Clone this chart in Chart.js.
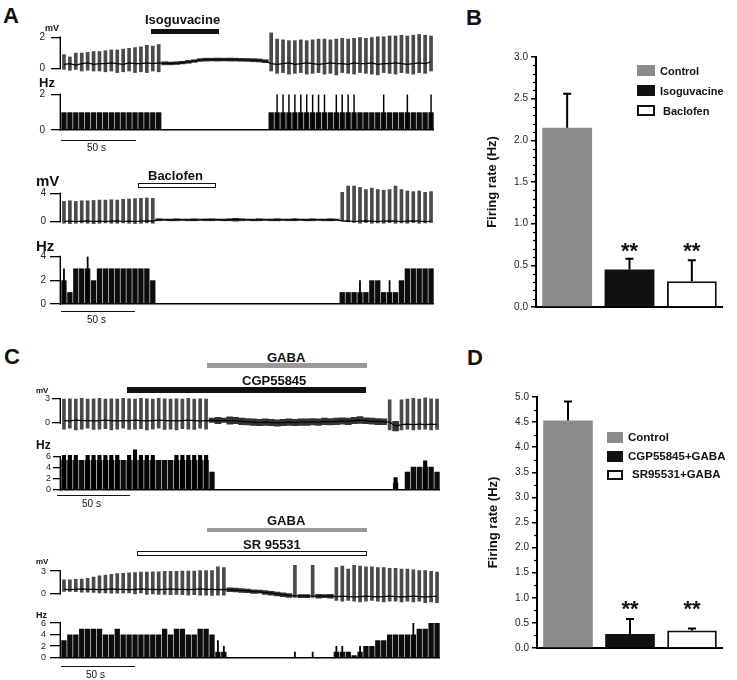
<!DOCTYPE html>
<html>
<head>
<meta charset="utf-8">
<script src="https://cdn.jsdelivr.net/npm/chart.js@4.4.1/dist/chart.umd.min.js"></script>
<style>
body { margin: 0; background: #fff; }
#fig { position: relative; width: 737px; height: 680px; overflow: hidden; background: #fff;
       font-family: "Liberation Sans", Arial, sans-serif; color: #111; }
#fig canvas { position: absolute; }
.t { position: absolute; font-weight: bold; white-space: nowrap; line-height: 1; }
.n { position: absolute; white-space: nowrap; line-height: 1; font-size: 10px; }
.bx { position: absolute; box-sizing: border-box; }
</style>
</head>
<body>
<div id="fig">
  <canvas id="a1mv"></canvas>
  <canvas id="a1hz"></canvas>
  <canvas id="a2mv"></canvas>
  <canvas id="a2hz"></canvas>
  <canvas id="c1mv"></canvas>
  <canvas id="c1hz"></canvas>
  <canvas id="c2mv"></canvas>
  <canvas id="c2hz"></canvas>
  <canvas id="chartB"></canvas>
  <canvas id="chartD"></canvas>

  <!-- panel letters -->
  <div class="t" style="left:3px;top:5px;font-size:22px">A</div>
  <div class="t" style="left:466px;top:7px;font-size:22px">B</div>
  <div class="t" style="left:4px;top:346px;font-size:22px">C</div>
  <div class="t" style="left:467px;top:347px;font-size:22px">D</div>

  <!-- A: drug bars, units, scale bars -->
  <div class="t" style="left:145px;top:13px;font-size:13px">Isoguvacine</div>
  <div class="bx" style="left:151px;top:29px;width:68px;height:5px;background:#111"></div>
  <div class="t" style="left:45px;top:24px;font-size:9px">mV</div>
  <div class="t" style="left:39px;top:76px;font-size:13px">Hz</div>
  <div class="bx" style="left:61px;top:140px;width:75px;height:1px;background:#111"></div>
  <div class="n" style="left:87px;top:143px">50 s</div>

  <div class="t" style="left:148px;top:169px;font-size:13px">Baclofen</div>
  <div class="bx" style="left:138px;top:183px;width:78px;height:5px;border:1px solid #111;background:#fff"></div>
  <div class="t" style="left:36px;top:173px;font-size:15px">mV</div>
  <div class="t" style="left:36px;top:238px;font-size:15px">Hz</div>
  <div class="bx" style="left:61px;top:311px;width:74px;height:1px;background:#111"></div>
  <div class="n" style="left:87px;top:315px">50 s</div>

  <!-- C: drug bars, units, scale bars -->
  <div class="t" style="left:267px;top:351px;font-size:13px">GABA</div>
  <div class="bx" style="left:207px;top:363px;width:160px;height:5px;background:#999"></div>
  <div class="t" style="left:242px;top:374px;font-size:13px">CGP55845</div>
  <div class="bx" style="left:127px;top:387px;width:239px;height:6px;background:#111"></div>
  <div class="t" style="left:36px;top:387px;font-size:8px">mV</div>
  <div class="t" style="left:36px;top:439px;font-size:12px">Hz</div>
  <div class="bx" style="left:57px;top:495px;width:73px;height:1px;background:#111"></div>
  <div class="n" style="left:82px;top:499px">50 s</div>

  <div class="t" style="left:267px;top:514px;font-size:13px">GABA</div>
  <div class="bx" style="left:207px;top:528px;width:160px;height:4px;background:#999"></div>
  <div class="t" style="left:243px;top:538px;font-size:13px">SR 95531</div>
  <div class="bx" style="left:137px;top:551px;width:230px;height:5px;border:1px solid #111;background:#fff"></div>
  <div class="t" style="left:36px;top:558px;font-size:8px">mV</div>
  <div class="t" style="left:36px;top:611px;font-size:9px">Hz</div>
  <div class="bx" style="left:61px;top:666px;width:74px;height:1px;background:#111"></div>
  <div class="n" style="left:86px;top:670px">50 s</div>

  <!-- legends B and D -->
  <div class="bx" style="left:637px;top:65px;width:18px;height:11px;background:#8b8b8b"></div>
  <div class="bx" style="left:637px;top:85px;width:18px;height:11px;background:#111"></div>
  <div class="bx" style="left:637px;top:105px;width:18px;height:11px;border:2px solid #111;background:#fff"></div>
  <div class="t" style="left:660px;top:66px;font-size:11px">Control</div>
  <div class="t" style="left:660px;top:86px;font-size:11px">Isoguvacine</div>
  <div class="t" style="left:663px;top:106px;font-size:11px">Baclofen</div>

  <div class="bx" style="left:607px;top:432px;width:16px;height:11px;background:#8b8b8b"></div>
  <div class="bx" style="left:607px;top:451px;width:16px;height:11px;background:#111"></div>
  <div class="bx" style="left:607px;top:470px;width:16px;height:10px;border:2px solid #111;background:#fff"></div>
  <div class="t" style="left:628px;top:432px;font-size:11.5px">Control</div>
  <div class="t" style="left:628px;top:451px;font-size:11.5px">CGP55845+GABA</div>
  <div class="t" style="left:632px;top:469px;font-size:11.5px">SR95531+GABA</div>
</div>

<script>
Chart.defaults.font.family = '"Liberation Sans", Arial, sans-serif';
Chart.defaults.color = '#111';

const BIN_S = 4;      // seconds per trace bin
const BIN_PX = 5.92;  // width of one bin on the page

// ---- A, isoguvacine: membrane potential envelope (mV) ----
const a1SpikeHi = [0.9,0.75,1.0,1.0,1.05,1.1,1.1,1.15,1.2,1.2,1.25,1.3,1.35,1.4,1.5,1.45,1.55,
  null,null,null,null,null,null,null,null,null,null,null,null,null,null,null,null,null,null,
  2.3,1.9,1.85,1.8,1.8,1.85,1.8,1.85,1.9,1.9,1.85,1.9,1.95,1.9,1.95,2.0,1.95,2.0,2.05,2.05,2.1,2.1,2.15,2.1,2.15,2.2,2.15,2.1];
const a1SpikeLo = [-0.1,-0.15,-0.1,-0.2,-0.15,-0.2,-0.2,-0.25,-0.2,-0.3,-0.25,-0.2,-0.3,-0.25,-0.3,-0.2,-0.25,
  null,null,null,null,null,null,null,null,null,null,null,null,null,null,null,null,null,null,
  -0.2,-0.35,-0.3,-0.4,-0.35,-0.3,-0.4,-0.35,-0.3,-0.4,-0.35,-0.45,-0.3,-0.35,-0.4,-0.3,-0.35,-0.4,-0.45,-0.3,-0.35,-0.4,-0.3,-0.35,-0.4,-0.3,-0.35,-0.2];
const a1BandHi = [null,null,null,null,null,null,null,null,null,null,null,null,null,null,null,null,null,
  0.42,0.4,0.42,0.45,0.5,0.55,0.62,0.65,0.65,0.66,0.65,0.66,0.65,0.64,0.63,0.62,0.6,0.55,
  null,null,null,null,null,null,null,null,null,null,null,null,null,null,null,null,null,null,null,null,null,null,null,null,null,null,null,null];
const a1BandLo = [null,null,null,null,null,null,null,null,null,null,null,null,null,null,null,null,null,
  0.22,0.22,0.24,0.28,0.32,0.38,0.44,0.46,0.47,0.46,0.47,0.46,0.46,0.45,0.44,0.42,0.4,0.36,
  null,null,null,null,null,null,null,null,null,null,null,null,null,null,null,null,null,null,null,null,null,null,null,null,null,null,null,null];
const a1Base = [0.25,0.3,0.2,0.3,0.35,0.25,0.3,0.3,0.35,0.3,0.25,0.35,0.3,0.3,0.35,0.3,0.35,
  0.32,0.31,0.33,0.36,0.41,0.46,0.53,0.55,0.56,0.56,0.56,0.56,0.55,0.54,0.53,0.52,0.5,0.45,
  0.3,0.25,0.3,0.35,0.25,0.3,0.35,0.3,0.25,0.3,0.35,0.3,0.3,0.25,0.35,0.3,0.3,0.35,0.25,0.3,0.3,0.35,0.3,0.25,0.3,0.35,0.3,0.4];
// firing rate (Hz)
const a1Rate = [1,1,1,1,1,1,1,1,1,1,1,1,1,1,1,1,1,
  0,0,0,0,0,0,0,0,0,0,0,0,0,0,0,0,0,0,
  1,1,1,1,1,1,1,1,1,1,1,1,1,1,1,1,1,1,1,1,1,1,1,1,1,1,1,1];
const a1PeakT = [144,148,152,156,160,164,168,172,176,184,188,192,196,216,232,248];
const a1PeakV = [2,2,2,2,2,2,2,2,2,2,2,2,2,2,2,2];

// ---- A, baclofen ----
const a2SpikeHi = [2.9,3.0,2.9,3.0,3.0,3.05,3.1,3.1,3.15,3.1,3.2,3.25,3.3,3.35,3.4,3.35,
  null,null,null,null,null,null,null,null,null,null,null,null,null,null,null,null,null,null,null,null,null,null,null,null,null,null,null,null,null,null,null,
  4.2,5.1,5.1,4.9,4.6,4.8,4.6,4.5,4.6,5.1,4.6,4.4,4.3,4.4,4.2,4.3];
const a2SpikeLo = [-0.3,-0.35,-0.3,-0.25,-0.3,-0.35,-0.3,-0.25,-0.3,-0.3,-0.25,-0.3,-0.35,-0.3,-0.25,-0.3,
  null,null,null,null,null,null,null,null,null,null,null,null,null,null,null,null,null,null,null,null,null,null,null,null,null,null,null,null,null,null,null,
  0.0,-0.1,-0.2,-0.3,-0.2,-0.3,-0.25,-0.3,-0.2,-0.3,-0.25,-0.3,-0.2,-0.3,-0.25,-0.2];
const a2BandHi = [null,null,null,null,null,null,null,null,null,null,null,null,null,null,null,null,
  0.4,0.35,0.35,0.4,0.35,0.35,0.4,0.35,0.35,0.4,0.35,0.35,0.4,0.45,0.4,0.35,0.35,0.4,0.35,0.35,0.4,0.35,0.35,0.4,0.35,0.35,0.4,0.35,0.35,0.4,0.35,
  null,null,null,null,null,null,null,null,null,null,null,null,null,null,null,null];
const a2BandLo = [null,null,null,null,null,null,null,null,null,null,null,null,null,null,null,null,
  0.1,0.15,0.1,0.1,0.15,0.1,0.1,0.15,0.1,0.1,0.15,0.1,0.1,0.05,0.1,0.15,0.1,0.1,0.15,0.1,0.1,0.15,0.1,0.1,0.15,0.1,0.1,0.15,0.1,0.1,0.15,
  null,null,null,null,null,null,null,null,null,null,null,null,null,null,null,null];
const a2Base = [0.0,0.05,0.0,0.05,0.1,0.0,0.05,0.0,0.05,0.1,0.0,0.05,0.0,0.05,0.1,0.05,
  0.25,0.25,0.2,0.25,0.25,0.25,0.2,0.25,0.3,0.25,0.25,0.2,0.25,0.3,0.25,0.25,0.2,0.25,0.25,0.25,0.2,0.25,0.25,0.3,0.25,0.2,0.25,0.25,0.25,0.2,0.25,
  0.05,0.1,0.0,0.05,0.1,0.05,0.0,0.05,0.1,0.05,0.0,0.05,0.1,0.05,0.0,0.05];
const a2Rate = [2,1,3,3,3,2,3,3,3,3,3,3,3,3,3,2,
  0,0,0,0,0,0,0,0,0,0,0,0,0,0,0,0,0,0,0,0,0,0,0,0,0,0,0,0,0,0,0,
  1,1,1,1,1,2,2,1,1,1,2,3,3,3,3,3];
const a2PeakT = [0,16,200,220];
const a2PeakV = [3,4,2,2];

// ---- C, GABA + CGP55845 ----
const c1SpikeHi = [3.0,3.05,3.0,3.1,3.0,3.05,3.1,3.0,3.05,3.0,3.1,3.05,3.0,3.1,3.05,3.0,3.1,3.05,3.0,3.05,3.0,3.1,3.0,3.05,3.0,
  null,null,null,null,null,null,null,null,null,null,null,null,null,null,null,null,null,null,null,null,null,null,null,null,null,null,null,null,null,null,
  2.9, null,
  2.9,3.0,3.1,3.0,3.15,3.05,3.0];
const c1SpikeLo = [-0.8,-0.7,-0.9,-0.8,-0.7,-0.85,-0.8,-0.75,-0.9,-0.8,-0.7,-0.85,-0.8,-0.75,-0.9,-0.8,-0.7,-0.85,-0.8,-0.9,-0.75,-0.8,-0.85,-0.7,-0.8,
  null,null,null,null,null,null,null,null,null,null,null,null,null,null,null,null,null,null,null,null,null,null,null,null,null,null,null,null,null,null,
  -0.9, null,
  -0.9,-0.8,-0.9,-0.85,-0.8,-0.9,-0.85];
const c1BandHi = [null,null,null,null,null,null,null,null,null,null,null,null,null,null,null,null,null,null,null,null,null,null,null,null,null,
  0.6,0.7,0.6,0.75,0.7,0.6,0.55,0.5,0.45,0.5,0.45,0.4,0.45,0.5,0.45,0.5,0.5,0.55,0.5,0.6,0.55,0.6,0.65,0.6,0.7,0.8,0.65,0.6,0.55,0.5,
  null, 0.2,
  null,null,null,null,null,null,null];
const c1BandLo = [null,null,null,null,null,null,null,null,null,null,null,null,null,null,null,null,null,null,null,null,null,null,null,null,null,
  0.0,-0.1,0.0,-0.15,-0.1,-0.2,-0.25,-0.3,-0.35,-0.3,-0.35,-0.4,-0.35,-0.3,-0.35,-0.3,-0.3,-0.25,-0.3,-0.2,-0.25,-0.2,-0.15,-0.2,-0.1,-0.05,-0.1,-0.15,-0.2,-0.2,
  null, -1.0,
  null,null,null,null,null,null,null];
const c1Base = [0.3,0.25,0.35,0.3,0.3,0.25,0.3,0.35,0.3,0.25,0.3,0.3,0.35,0.3,0.25,0.3,0.35,0.3,0.3,0.25,0.3,0.35,0.3,0.25,0.3,
  0.3,0.3,0.3,0.3,0.3,0.2,0.15,0.1,0.05,0.1,0.05,0.0,0.05,0.1,0.05,0.1,0.1,0.15,0.1,0.2,0.15,0.2,0.25,0.2,0.3,0.35,0.3,0.2,0.2,0.15,
  0.1, -0.4,
  -0.2,-0.15,-0.2,-0.15,-0.2,-0.15,-0.2];
const c1Rate = [5.4,5.4,5.4,5.4,5.4,5.4,5.4,5.4,5.4,5.4,5.4,5.4,5.4,5.4,5.4,5.4,5.4,5.4,5.4,5.4,5.4,5.4,5.4,5.4,5.4,
  3.3,
  0,0,0,0,0,0,0,0,0,0,0,0,0,0,0,0,0,0,0,0,0,0,0,0,0,0,0,0,0,0,
  1.3, 0, 3.3, 4.2,4.2,4.2,4.2, 3.3];
const c1PeakT = [0,4,8,16,20,24,28,32,36,44,48,52,56,60,76,80,84,88,92,96,224,244];
const c1PeakV = [6.3,6.3,6.3,6.3,6.3,6.3,6.3,6.3,6.3,6.3,7.3,6.3,6.3,6.3,6.3,6.3,6.3,6.3,6.3,6.3,2.3,5.3];

// ---- C, GABA + SR 95531 ----
const c2SpikeHi = [1.9,1.9,1.95,2.0,2.1,2.25,2.4,2.5,2.6,2.7,2.75,2.8,2.85,2.9,2.9,2.95,2.95,3.0,3.0,3.0,3.05,3.05,3.05,3.1,3.1,3.1,3.6,3.5,
  null,null,null,null,null,null,null,null,null,null,null,
  3.8, null,null, 3.8, null,null,null,
  3.5,3.7,3.3,3.8,3.7,3.6,3.6,3.5,3.5,3.4,3.4,3.3,3.3,3.2,3.1,3.1,3.0,2.9];
const c2SpikeLo = [0.3,0.3,0.25,0.2,0.2,0.15,0.1,0.1,0.05,0.05,0.0,0.0,-0.05,0.0,-0.1,-0.05,-0.1,-0.1,-0.15,-0.1,-0.15,-0.2,-0.15,-0.2,-0.2,-0.25,-0.2,-0.2,
  null,null,null,null,null,null,null,null,null,null,null,
  -0.5, null,null, -0.5, null,null,null,
  -0.9,-1.0,-0.9,-1.0,-1.1,-1.0,-0.9,-1.0,-1.1,-1.0,-1.0,-1.1,-1.0,-1.1,-1.0,-1.2,-1.1,-1.2];
const c2BandHi = [null,null,null,null,null,null,null,null,null,null,null,null,null,null,null,null,null,null,null,null,null,null,null,null,null,null,null,null,
  0.8,0.75,0.7,0.65,0.55,0.5,0.45,0.35,0.25,0.15,0.05,
  null, 0.0,0.0, null, -0.05,0.0,-0.05,
  null,null,null,null,null,null,null,null,null,null,null,null,null,null,null,null,null,null];
const c2BandLo = [null,null,null,null,null,null,null,null,null,null,null,null,null,null,null,null,null,null,null,null,null,null,null,null,null,null,null,null,
  0.3,0.25,0.2,0.15,0.05,0.0,-0.05,-0.15,-0.25,-0.35,-0.45,
  null, -0.5,-0.5, null, -0.55,-0.5,-0.55,
  null,null,null,null,null,null,null,null,null,null,null,null,null,null,null,null,null,null];
const c2Base = [0.6,0.55,0.6,0.65,0.6,0.6,0.55,0.6,0.65,0.6,0.6,0.55,0.6,0.65,0.6,0.6,0.55,0.6,0.65,0.6,0.6,0.55,0.6,0.65,0.6,0.6,0.55,0.6,
  0.55,0.5,0.45,0.4,0.3,0.25,0.2,0.1,0.0,-0.1,-0.2,
  -0.25, -0.25,-0.25, -0.3, -0.3,-0.25,-0.3,
  -0.35,-0.3,-0.35,-0.4,-0.35,-0.3,-0.35,-0.4,-0.35,-0.3,-0.35,-0.4,-0.35,-0.3,-0.35,-0.4,-0.35,-0.3];
const c2Rate = [3,4,4,5,5,5,5,4,4,5,4,4,4,4,4,4,4,5,4,5,5,4,4,5,5,4,
  1,1,
  0,0,0,0,0,0,0,0,0,0,0,0,0,0,0,0,0,0,
  1,1,1,0.4,1,2,2,3,3,4,4,4,4,4,5,5,6,6];
const c2PeakT = [104,108,156,168,184,188,200,236];
const c2PeakV = [3,2,1,1,2,2,2,6];

// ---- B and D summary bars ----
const bCats = ['Control', 'Isoguvacine', 'Baclofen'];
const bMeans = [2.15, 0.45, 0.31];
const bSem = [0.41, 0.13, 0.25];
const bSig = ['', '**', '**'];
const bTicks = [0, 0.5, 1.0, 1.5, 2.0, 2.5, 3.0];

const dCats = ['Control', 'CGP55845+GABA', 'SR95531+GABA'];
const dMeans = [4.53, 0.28, 0.35];
const dSem = [0.38, 0.30, 0.04];
const dSig = ['', '**', '**'];
const dTicks = [0, 0.5, 1.0, 1.5, 2.0, 2.5, 3.0, 3.5, 4.0, 4.5, 5.0];

const barFill = ['#8b8b8b', '#111111', '#ffffff'];
const barEdge = ['#8b8b8b', '#111111', '#111111'];

// create chart, measure its paddings, then recreate so the plot area lands on `area`
function mount(id, makeCfg, area) {
  const cv = document.getElementById(id);
  cv.width = Math.round(area.w) + 120;
  cv.height = Math.round(area.h) + 80;
  let ch = new Chart(cv, makeCfg());
  const a = ch.chartArea;
  const l = a.left, t = a.top, r = cv.width - a.right, b = cv.height - a.bottom;
  ch.destroy();
  cv.width = Math.round(area.w + l + r);
  cv.height = Math.round(area.h + t + b);
  cv.style.left = (area.x - l) + 'px';
  cv.style.top = (area.y - t) + 'px';
  return new Chart(cv, makeCfg());
}

function traceArea(ax, n) {
  const ppv = (ax.zeroPx - ax.refPx) / ax.refVal;
  return { x: 61, w: n * BIN_PX, y: ax.zeroPx - ax.max * ppv, h: (ax.max - ax.min) * ppv };
}

const bracket = {
  id: 'bracket',
  afterDraw(chart) {
    const y = chart.scales.y, ctx = chart.ctx, tk = y.ticks;
    const x = y.right - 0.7;
    ctx.save();
    ctx.strokeStyle = '#000';
    ctx.lineWidth = 1.4;
    ctx.beginPath();
    ctx.moveTo(x, y.getPixelForValue(tk[0].value) + 0.7);
    ctx.lineTo(x, y.getPixelForValue(tk[tk.length - 1].value) - 0.7);
    ctx.stroke();
    ctx.restore();
  }
};

function baseOptions(scales) {
  return {
    responsive: false, animation: false, events: [],
    layout: { padding: 0 },
    plugins: { legend: { display: false }, tooltip: { enabled: false } },
    scales
  };
}

function traceScales(ax, showBase) {
  return {
    x: { display: showBase, grid: { display: false }, ticks: { display: false },
         border: { display: true, color: '#000', width: 1.6 } },
    y: {
      min: ax.min, max: ax.max,
      afterBuildTicks: s => { s.ticks = ax.ticks.map(v => ({ value: v })); },
      afterFit: s => { s.width = 41; },
      ticks: { font: { size: ax.font }, color: '#222', padding: ax.pad, autoSkip: false,
               callback: v => String(v) },
      grid: { drawOnChartArea: false, tickLength: ax.tl, color: '#000', lineWidth: 1.3 },
      border: { display: false }
    }
  };
}

function mvConfig(d, ax) {
  return () => ({
    type: 'bar',
    data: {
      labels: d.base.map((_, i) => String(i * BIN_S)),
      datasets: [
        { type: 'line', data: d.base, borderColor: '#000', borderWidth: 1.2, pointRadius: 0, order: 1 },
        { data: d.hi.map((h, i) => h === null ? null : [d.lo[i], h]), backgroundColor: '#4a4a4a',
          barPercentage: 0.62, categoryPercentage: 1, grouped: false, order: 2 },
        { data: d.bandHi.map((h, i) => h === null ? null : [d.bandLo[i], h]), backgroundColor: '#333333',
          barPercentage: 1, categoryPercentage: 1, grouped: false, order: 3 }
      ]
    },
    options: baseOptions(traceScales(ax, false)),
    plugins: [bracket]
  });
}

function hzConfig(d, ax) {
  return () => ({
    type: 'bar',
    data: {
      labels: d.rate.map((_, i) => String(i * BIN_S)),
      datasets: [
        { data: d.peakT.map((t, i) => ({ x: String(t), y: d.peakV[i] })), backgroundColor: '#000',
          barPercentage: d.peakW, categoryPercentage: 1, grouped: false, order: 1 },
        { data: d.rate, backgroundColor: '#0d0d0d', barPercentage: 0.9, categoryPercentage: 1,
          grouped: false, order: 2 }
      ]
    },
    options: baseOptions(traceScales(ax, true)),
    plugins: [bracket]
  });
}

function summaryPlugin(means, sems, sig, sigAt, minorStep) {
  return {
    id: 'summary',
    afterDraw(chart) {
      const ctx = chart.ctx, y = chart.scales.y;
      ctx.save();
      // minor ticks
      ctx.strokeStyle = '#000';
      ctx.lineWidth = 1.2;
      for (let v = minorStep; v < y.max - 1e-6; v += minorStep) {
        if (Math.abs(v * 2 - Math.round(v * 2)) < 1e-6) continue;
        const py = Math.round(y.getPixelForValue(v)) + 0.5;
        ctx.beginPath();
        ctx.moveTo(y.right - 3, py);
        ctx.lineTo(y.right, py);
        ctx.stroke();
      }
      // one-sided error bars and significance marks
      ctx.lineWidth = 2;
      chart.getDatasetMeta(0).data.forEach((bar, i) => {
        const top = y.getPixelForValue(means[i] + sems[i]);
        ctx.beginPath();
        ctx.moveTo(bar.x, bar.y);
        ctx.lineTo(bar.x, top);
        ctx.moveTo(bar.x - 4, top);
        ctx.lineTo(bar.x + 4, top);
        ctx.stroke();
        if (sig[i]) {
          ctx.fillStyle = '#111';
          ctx.font = 'bold 22px "Liberation Sans", Arial, sans-serif';
          ctx.textAlign = 'center';
          ctx.textBaseline = 'middle';
          ctx.fillText(sig[i], bar.x, y.getPixelForValue(sigAt) + 5);
        }
      });
      ctx.restore();
    }
  };
}

function summaryConfig(cats, means, sems, sig, sigAt, ticks, minorStep) {
  return () => ({
    type: 'bar',
    data: {
      labels: cats,
      datasets: [{
        data: means, backgroundColor: barFill, borderColor: barEdge,
        borderWidth: [0, 0, 2], barPercentage: 0.8, categoryPercentage: 1
      }]
    },
    options: baseOptions({
      x: { grid: { display: false }, ticks: { display: false },
           border: { display: true, color: '#000', width: 2 } },
      y: {
        min: 0, max: ticks[ticks.length - 1],
        afterBuildTicks: s => { s.ticks = ticks.map(v => ({ value: v })); },
        afterFit: s => { s.width = 55; },
        ticks: { font: { size: 10 }, color: '#222', padding: 3, autoSkip: false,
                 callback: v => v.toFixed(1) },
        grid: { drawOnChartArea: false, tickLength: 5, color: '#000', lineWidth: 1.5 },
        border: { display: true, color: '#000', width: 2 },
        title: { display: true, text: 'Firing rate (Hz)', color: '#111',
                 font: { size: 13, weight: 'bold' }, padding: { top: 4, bottom: 4 } }
      }
    }),
    plugins: [summaryPlugin(means, sems, sig, sigAt, minorStep)]
  });
}

// axis definitions: pixel of 0, a reference tick value and its pixel
const a1mvAx = { zeroPx: 68, refVal: 2, refPx: 37, min: -0.5, max: 2.4, ticks: [0, 2], font: 10, tl: 10, pad: 6 };
const a1hzAx = { zeroPx: 129, refVal: 2, refPx: 94, min: 0, max: 2.2, ticks: [0, 2], font: 10, tl: 10, pad: 6 };
const a2mvAx = { zeroPx: 221, refVal: 4, refPx: 193, min: -0.5, max: 5.2, ticks: [0, 4], font: 10, tl: 11, pad: 4 };
const a2hzAx = { zeroPx: 304, refVal: 4, refPx: 257, min: 0, max: 4.3, ticks: [0, 2, 4], font: 10, tl: 11, pad: 4 };
const c1mvAx = { zeroPx: 423, refVal: 3, refPx: 399, min: -1.2, max: 3.3, ticks: [0, 3], font: 9, tl: 9, pad: 2 };
const c1hzAx = { zeroPx: 490, refVal: 6, refPx: 457, min: 0, max: 7.5, ticks: [0, 2, 4, 6], font: 9, tl: 8, pad: 2 };
const c2mvAx = { zeroPx: 594, refVal: 3, refPx: 571, min: -1.4, max: 4.0, ticks: [0, 3], font: 9, tl: 11, pad: 4 };
const c2hzAx = { zeroPx: 657, refVal: 6, refPx: 623, min: 0, max: 6.3, ticks: [0, 2, 4, 6], font: 9, tl: 11, pad: 4 };

mount('a1mv', mvConfig({ hi: a1SpikeHi, lo: a1SpikeLo, bandHi: a1BandHi, bandLo: a1BandLo, base: a1Base }, a1mvAx),
      traceArea(a1mvAx, a1Base.length));
mount('a1hz', hzConfig({ rate: a1Rate, peakT: a1PeakT, peakV: a1PeakV, peakW: 0.25 }, a1hzAx),
      traceArea(a1hzAx, a1Rate.length));
mount('a2mv', mvConfig({ hi: a2SpikeHi, lo: a2SpikeLo, bandHi: a2BandHi, bandLo: a2BandLo, base: a2Base }, a2mvAx),
      traceArea(a2mvAx, a2Base.length));
mount('a2hz', hzConfig({ rate: a2Rate, peakT: a2PeakT, peakV: a2PeakV, peakW: 0.3 }, a2hzAx),
      traceArea(a2hzAx, a2Rate.length));
mount('c1mv', mvConfig({ hi: c1SpikeHi, lo: c1SpikeLo, bandHi: c1BandHi, bandLo: c1BandLo, base: c1Base }, c1mvAx),
      traceArea(c1mvAx, c1Base.length));
mount('c1hz', hzConfig({ rate: c1Rate, peakT: c1PeakT, peakV: c1PeakV, peakW: 0.7 }, c1hzAx),
      traceArea(c1hzAx, c1Rate.length));
mount('c2mv', mvConfig({ hi: c2SpikeHi, lo: c2SpikeLo, bandHi: c2BandHi, bandLo: c2BandLo, base: c2Base }, c2mvAx),
      traceArea(c2mvAx, c2Base.length));
mount('c2hz', hzConfig({ rate: c2Rate, peakT: c2PeakT, peakV: c2PeakV, peakW: 0.3 }, c2hzAx),
      traceArea(c2hzAx, c2Rate.length));

mount('chartB', summaryConfig(bCats, bMeans, bSem, bSig, 0.72, bTicks, 0.1), { x: 536, y: 57, w: 187, h: 250 });
mount('chartD', summaryConfig(dCats, dMeans, dSem, dSig, 0.85, dTicks, 0.25), { x: 537, y: 397, w: 186, h: 251 });
</script>
</body>
</html>
